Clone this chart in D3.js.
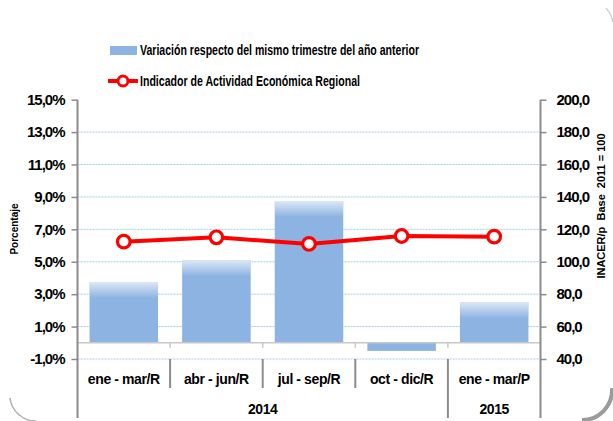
<!DOCTYPE html>
<meta charset="utf-8">
<head>
<style>
 body { margin: 0; background: #fff; }
 svg text {
   font-family: "Liberation Sans", Arial, sans-serif;
   font-weight: bold;
   fill: #000;
 }
 .tick text { font-size: 15px; letter-spacing: -1px; }
 .cat text { font-size: 14px; letter-spacing: -0.4px; }
 .legend text { font-size: 15px; }
 .grid line { stroke: #9fd0e2; stroke-dasharray: 2,1; }
 .frame { fill: none; }
</style>
</head>
<body>
<svg width="613" height="421"></svg>
<script src="https://d3js.org/d3.v7.min.js" charset="utf-8"></script>
<script>
  // data
  var categories = ['ene - mar/R', 'abr - jun/R', 'jul - sep/R', 'oct - dic/R', 'ene - mar/P'];
  var years = [{ label: '2014', from: 0, to: 3 }, { label: '2015', from: 4, to: 4 }];
  var variacion = [3.75, 5.1, 8.75, -0.5, 2.5];
  var inacer = [112.4, 115.1, 111.0, 115.9, 115.5];
  var leftTicks = [15, 13, 11, 9, 7, 5, 3, 1, -1];
  var rightTicks = [200, 180, 160, 140, 120, 100, 80, 60, 40];

  var svg = d3.select('svg');
  var plotL = 77.5, plotR = 540.5, plotT = 99.7, plotB = 359;

  var x = d3.scaleBand().domain(categories).range([plotL, plotR])
      .paddingInner(0.26).paddingOuter(0.13);
  var y = d3.scaleLinear().domain([-1, 15]).range([plotB, plotT]);
  var y2 = d3.scaleLinear().domain([40, 200]).range([plotB, plotT]);
  var step = x.step();
  var comma = function(d) { return d3.format('.1f')(d).replace('.', ',').replace('\u2212', '-'); };
  var sepX = function(d) { return x(d) - step * 0.13; };

  var defs = svg.append('defs');
  var g = defs.append('linearGradient').attr('id', 'shine')
      .attr('x1', 0).attr('y1', 0).attr('x2', 0).attr('y2', 1);
  g.append('stop').attr('offset', 0).attr('stop-color', '#fff').attr('stop-opacity', 0.7);
  g.append('stop').attr('offset', 1).attr('stop-color', '#fff').attr('stop-opacity', 0);

  // grid
  svg.append('g').attr('class', 'grid')
    .selectAll('line').data(leftTicks.filter(function(d) { return d < 15; }))
    .join('line')
      .attr('x1', plotL).attr('x2', plotR)
      .attr('y1', function(d) { return y(d); }).attr('y2', function(d) { return y(d); });

  // bars
  var bars = svg.append('g');
  bars.selectAll('rect.bar').data(variacion).join('rect')
      .attr('class', 'bar')
      .attr('x', function(d, i) { return x(categories[i]); })
      .attr('width', x.bandwidth())
      .attr('y', function(d) { return y(Math.max(0, d)); })
      .attr('height', function(d) { return Math.abs(y(d) - y(0)); })
      .attr('fill', '#8db3e2');
  bars.selectAll('rect.shine').data(variacion).join('rect')
      .attr('class', 'shine')
      .attr('x', function(d, i) { return x(categories[i]); })
      .attr('width', x.bandwidth())
      .attr('y', function(d) { return y(d); })
      .attr('height', function(d) { return d > 0 ? 16 : 0; })
      .attr('fill', 'url(#shine)');

  // zero line and its little ticks
  svg.append('line').attr('x1', plotL).attr('x2', plotR)
      .attr('y1', y(0)).attr('y2', y(0))
      .attr('stroke', '#c8c8c8').attr('stroke-width', 1.5);
  svg.append('g').selectAll('line').data(categories.slice(1)).join('line')
      .attr('x1', sepX).attr('x2', sepX)
      .attr('y1', y(0)).attr('y2', y(0) + 5)
      .attr('stroke', '#c8c8c8').attr('stroke-width', 1.5);

  // axes
  var yAxis = d3.axisLeft(y).tickValues(leftTicks).tickSize(6).tickPadding(7)
      .tickFormat(function(d) { return comma(d) + '%'; });
  var ya = svg.append('g').attr('transform', 'translate(' + plotL + ',0)').call(yAxis);
  var y2Axis = d3.axisRight(y2).tickValues(rightTicks).tickSize(6).tickPadding(10)
      .tickFormat(comma);
  var yb = svg.append('g').attr('transform', 'translate(' + plotR + ',0)').call(y2Axis);
  [ya, yb].forEach(function(a) {
    a.attr('font-family', null).attr('font-size', null);
    a.select('.domain').remove();
    a.selectAll('.tick line').attr('stroke', '#8c8c8c').attr('stroke-width', 1.5);
  });

  // axis lines
  var axisColor = '#8c8c8c';
  svg.append('line').attr('x1', plotL).attr('x2', plotL).attr('y1', plotT).attr('y2', 418)
      .attr('stroke', axisColor).attr('stroke-width', 2);
  svg.append('line').attr('x1', plotR).attr('x2', plotR).attr('y1', plotT).attr('y2', 418)
      .attr('stroke', axisColor).attr('stroke-width', 2);

  // multi-level category axis
  var cat = svg.append('g').attr('class', 'cat');
  cat.selectAll('line.sep').data(categories.slice(1)).join('line')
      .attr('x1', sepX).attr('x2', sepX)
      .attr('y1', plotB)
      .attr('y2', function(d, i) { return years.some(function(yy) { return yy.from === i + 1; }) ? 418 : 388; })
      .attr('stroke', axisColor).attr('stroke-width', 2);
  cat.selectAll('text.lab').data(categories).join('text')
      .attr('class', 'lab')
      .attr('x', function(d) { return x(d) + x.bandwidth() / 2; })
      .attr('y', 379).attr('dy', '0.35em')
      .attr('text-anchor', 'middle')
      .text(function(d) { return d; });
  cat.selectAll('text.yr').data(years).join('text')
      .attr('class', 'yr')
      .attr('x', function(d) {
        return (sepX(categories[d.from]) + x(categories[d.to]) + x.bandwidth() + step * 0.13) / 2;
      })
      .attr('y', 409).attr('dy', '0.35em')
      .attr('text-anchor', 'middle')
      .text(function(d) { return d.label; });

  // line series
  var line = d3.line()
      .x(function(d, i) { return x(categories[i]) + x.bandwidth() / 2; })
      .y(function(d) { return y2(d); });
  svg.append('path').datum(inacer)
      .attr('d', line).attr('fill', 'none')
      .attr('stroke', '#ff0000').attr('stroke-width', 4);
  svg.append('g').selectAll('circle').data(inacer).join('circle')
      .attr('cx', function(d, i) { return x(categories[i]) + x.bandwidth() / 2; })
      .attr('cy', function(d) { return y2(d); })
      .attr('r', 6.3)
      .attr('fill', '#fff').attr('stroke', '#ff0000').attr('stroke-width', 3.2);

  // axis titles
  svg.append('text').attr('transform', 'translate(18,229) rotate(-90)')
      .attr('text-anchor', 'middle').style('font-size', '10px').text('Porcentaje');
  svg.append('text').attr('transform', 'translate(605,206) rotate(-90)')
      .attr('text-anchor', 'middle').style('font-size', '11px').style('white-space', 'pre')
      .text('INACER/p  Base  2011 = 100');

  // legend (the original font is condensed, so squeeze it to the same length)
  var lg = svg.append('g').attr('class', 'legend');
  lg.append('rect').attr('x', 110).attr('y', 46).attr('width', 27).attr('height', 9).attr('fill', '#8db3e2');
  lg.append('text').attr('x', 140).attr('y', 50).attr('dy', '0.35em')
      .attr('textLength', 279).attr('lengthAdjust', 'spacingAndGlyphs')
      .text('Variación respecto del mismo trimestre del año anterior');
  lg.append('line').attr('x1', 108).attr('x2', 138).attr('y1', 81).attr('y2', 81)
      .attr('stroke', '#ff0000').attr('stroke-width', 4);
  lg.append('circle').attr('cx', 123).attr('cy', 81).attr('r', 5)
      .attr('fill', '#fff').attr('stroke', '#ff0000').attr('stroke-width', 3);
  lg.append('text').attr('x', 140).attr('y', 81).attr('dy', '0.35em')
      .attr('textLength', 220).attr('lengthAdjust', 'spacingAndGlyphs')
      .text('Indicador de Actividad Económica Regional');

  // rounded frame corners
  svg.append('path').attr('class', 'frame')
      .attr('d', 'M612,388 A30,30 0 0 1 582,420')
      .attr('stroke', '#9a9a9a').attr('stroke-width', 4);
  svg.append('path').attr('class', 'frame')
      .attr('d', 'M10,398 A26,26 0 0 0 36,421')
      .attr('stroke', '#b0b0b0').attr('stroke-width', 1.5);
  svg.append('path').attr('class', 'frame')
      .attr('d', 'M606,8 A30,30 0 0 1 613,22')
      .attr('stroke', '#d0d0d0').attr('stroke-width', 1.5);
</script>
</body>
</html>
